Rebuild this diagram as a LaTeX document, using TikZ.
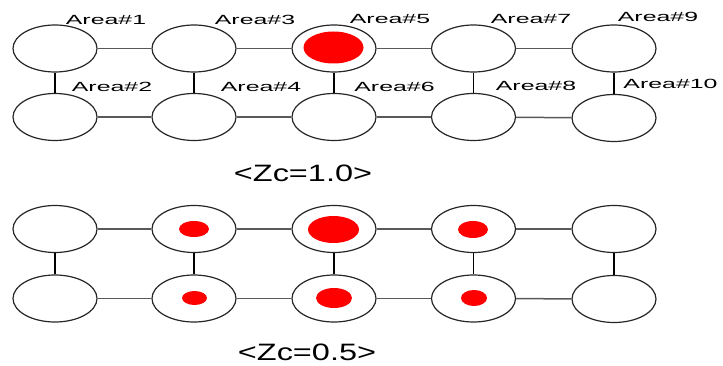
\documentclass[tikz,border=0pt]{standalone}
\usepackage{fontspec}
\setmainfont{Liberation Sans}
\usepackage{graphicx}
\usetikzlibrary{shapes.geometric}
\tikzset{
 area/.style={ellipse, draw=black!85, line width=1.2pt, fill=white, minimum width=84pt, minimum height=47pt, inner sep=0pt},
 blob/.style={ellipse, fill=red, inner sep=0pt},
 hlink/.style={draw=black!65, line width=1.5pt},
 vlink/.style={draw=black, line width=1.3pt},
 lbl/.style={anchor=base, inner sep=0pt, font=\fontsize{13.3}{16}\selectfont},
 captxt/.style={anchor=base, inner sep=0pt, font=\fontsize{23.7}{28}\selectfont},
}
\newcommand\wideA[1]{\scalebox{1.87}[1]{#1}}
\newcommand\wideC[1]{\scalebox{1.37}[1]{#1}}
\begin{document}
\begin{tikzpicture}[x=1pt,y=-1pt]
\useasboundingbox (0,0) rectangle (723,366);
% top diagram
\node[area] (a1) at (55,48.5) {};
\node[area] (a2) at (55,117) {};
\node[area] (a3) at (194,48.5) {};
\node[area] (a4) at (194,117) {};
\node[area] (a5) at (334,48.5) {};
\node[area] (a6) at (334,117) {};
\node[area] (a7) at (473.5,48.5) {};
\node[area] (a8) at (473.5,117) {};
\node[area] (a9) at (614,48.5) {};
\node[area] (a10) at (614,118) {};
\node[blob, minimum width=60pt, minimum height=32pt] (r5) at (333.5,47.5) {};
\foreach \u/\v in {a1/a3,a3/a5,a5/a7,a7/a9,a2/a4,a4/a6,a6/a8,a8/a10} \draw[hlink] (\u) -- (\v);
\foreach \u/\v in {a1/a2,a3/a4,a5/a6,a7/a8,a9/a10} \draw[vlink] (\u) -- (\v);
\node[lbl] (l1) at (106,24.5) {\wideA{Area\#1}};
\node[lbl] (l3) at (255,25) {\wideA{Area\#3}};
\node[lbl] (l5) at (390,24) {\wideA{Area\#5}};
\node[lbl] (l7) at (531,24) {\wideA{Area\#7}};
\node[lbl] (l9) at (658,22) {\wideA{Area\#9}};
\node[lbl] (l2) at (112,92) {\wideA{Area\#2}};
\node[lbl] (l4) at (261,92) {\wideA{Area\#4}};
\node[lbl] (l6) at (394.5,92) {\wideA{Area\#6}};
\node[lbl] (l8) at (536,91) {\wideA{Area\#8}};
\node[lbl] (l10) at (670.5,88.5) {\wideA{Area\#10}};
\node[captxt] (c1) at (303,182) {\wideC{<Zc=1.0>}};
% bottom diagram
\node[area] (b1) at (55,229) {};
\node[area] (b2) at (55,298.5) {};
\node[area] (b3) at (194,229) {};
\node[area] (b4) at (194,298.5) {};
\node[area] (b5) at (334,229) {};
\node[area] (b6) at (334,298.5) {};
\node[area] (b7) at (473.5,229) {};
\node[area] (b8) at (473.5,298.5) {};
\node[area] (b9) at (614,229) {};
\node[area] (b10) at (614,299) {};
\node[blob, minimum width=30pt, minimum height=16pt] (s3) at (194,229) {};
\node[blob, minimum width=51pt, minimum height=27pt] (s5) at (333.5,229.5) {};
\node[blob, minimum width=30pt, minimum height=17pt] (s7) at (473,229.5) {};
\node[blob, minimum width=25pt, minimum height=14pt] (s4) at (194.5,298) {};
\node[blob, minimum width=36pt, minimum height=20pt] (s6) at (334,298) {};
\node[blob, minimum width=26pt, minimum height=16pt] (s8) at (474,298) {};
\foreach \u/\v in {b1/b3,b3/b5,b5/b7,b7/b9,b2/b4,b4/b6,b6/b8,b8/b10} \draw[hlink] (\u) -- (\v);
\foreach \u/\v in {b1/b2,b3/b4,b5/b6,b7/b8,b9/b10} \draw[vlink] (\u) -- (\v);
\node[captxt] (c2) at (307,360) {\wideC{<Zc=0.5>}};
\end{tikzpicture}
\end{document}
